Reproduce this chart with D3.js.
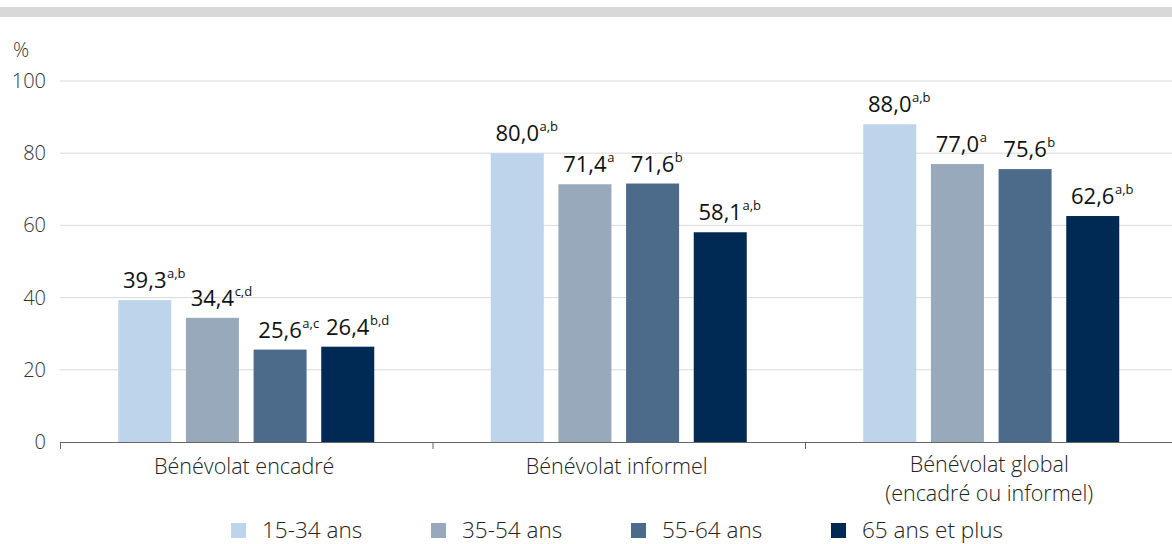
<!DOCTYPE html>
<html><head><meta charset="utf-8">
<script src="https://cdn.jsdelivr.net/npm/d3@7"></script>
<style>body{margin:0;background:#fff;} svg{display:block;font-family:"Open Sans",sans-serif;}</style>
</head><body><svg id="c" width="1172" height="544"></svg>
<script>
const categories = [["Bénévolat encadré"], ["Bénévolat informel"], ["Bénévolat global", "(encadré ou informel)"]];
const series = ["15-34 ans", "35-54 ans", "55-64 ans", "65 ans et plus"];
const colors = ["#BDD4EB", "#98A9BC", "#4C6A8A", "#002A54"];
const values = [
  [39.3, 34.4, 25.6, 26.4],
  [80.0, 71.4, 71.6, 58.1],
  [88.0, 77.0, 75.6, 62.6]
];
const notes = [
  ["a,b", "c,d", "a,c", "b,d"],
  ["a,b", "a", "b", "a,b"],
  ["a,b", "a", "b", "a,b"]
];
const yTicks = [0, 20, 40, 60, 80, 100];

const svg = d3.select("#c");
svg.append("rect").attr("x", 0).attr("y", 7).attr("width", 1172).attr("height", 10).attr("fill", "#D7D8D8");

const GW = 256;
const x0 = d3.scaleBand().domain(d3.range(categories.length)).range([60, 1177.5]).paddingInner(0).paddingOuter(0);
const x1 = d3.scaleBand().domain(d3.range(series.length)).range([0, GW]).paddingInner(0.2167).paddingOuter(0);
const y = d3.scaleLinear().domain([0, 100]).range([442, 81]);

// gridlines
svg.append("g").selectAll("line").data(yTicks.filter(d => d > 0)).join("line")
  .attr("x1", 60).attr("x2", 1172).attr("y1", d => y(d)).attr("y2", d => y(d))
  .attr("stroke", "#D9D9D9").attr("stroke-width", 1);

// y tick labels
svg.append("g").selectAll("text").data(yTicks).join("text")
  .attr("x", 46).attr("y", d => y(d) + 7).attr("text-anchor", "end")
  .attr("font-size", 20).attr("font-weight", 300).attr("fill", "#333")
  .text(d => d);
svg.append("text").attr("x", 13).attr("y", 57).attr("font-size", 20).attr("font-weight", 300).attr("fill", "#333").text("%");

// bars
const groups = svg.append("g").selectAll("g").data(values).join("g")
  .attr("transform", (d, i) => `translate(${x0(i) + (x0.bandwidth() - GW) / 2},0)`);
groups.selectAll("rect").data(d => d).join("rect")
  .attr("x", (d, j) => x1(j)).attr("width", x1.bandwidth())
  .attr("y", d => y(d)).attr("height", d => y(0) - y(d))
  .attr("fill", (d, j) => colors[j]);

// value labels
groups.each(function(row, i) {
  const g = d3.select(this);
  row.forEach((v, j) => {
    const cx = x1(j) + x1.bandwidth() / 2;
    const t = g.append("text").attr("x", cx).attr("y", y(v) - 12).attr("text-anchor", "middle")
      .attr("font-size", 22).attr("fill", "#111").text(d3.format(".1f")(v).replace(".", ","));
    const w = t.node().getComputedTextLength();
    g.append("text").attr("x", cx + w / 2 + 0.5).attr("y", y(v) - 22)
      .attr("font-size", 13).attr("fill", "#111").text(notes[i][j]);
  });
});

// x axis
svg.append("line").attr("x1", 60).attr("x2", 1172).attr("y1", 442.5).attr("y2", 442.5).attr("stroke", "#666");
svg.append("g").selectAll("line").data(d3.range(categories.length)).join("line")
  .attr("x1", d => x0(d) + 0.5).attr("x2", d => x0(d) + 0.5).attr("y1", 442).attr("y2", 449).attr("stroke", "#666");

svg.append("g").selectAll("text").data(categories).join("text")
  .attr("x", (d, i) => x0(i) + x0.bandwidth() / 2 - 2).attr("y", d => d.length > 1 ? 472 : 474)
  .attr("text-anchor", "middle").attr("font-size", 21.5).attr("font-weight", 300).attr("fill", "#222")
  .selectAll("tspan").data(d => d).join("tspan")
  .attr("x", function() { return d3.select(this.parentNode).attr("x"); })
  .attr("dy", (d, k) => k === 0 ? 0 : 28.5).text(d => d);

// legend
const lg = svg.append("g").selectAll("g").data(series).join("g")
  .attr("transform", (d, i) => `translate(${231 + i * 200},523)`);
lg.append("rect").attr("width", 15).attr("height", 15).attr("fill", (d, i) => colors[i]);
lg.append("text").attr("x", 31).attr("y", 15).attr("font-size", 22.5).attr("font-weight", 300).attr("fill", "#222").text(d => d);
</script></body></html>
